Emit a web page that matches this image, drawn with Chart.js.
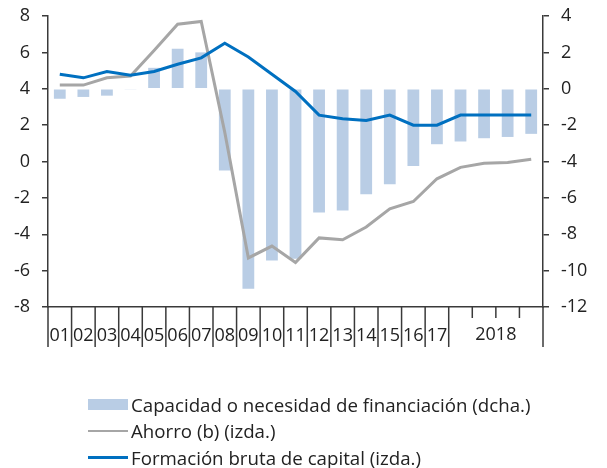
<!DOCTYPE html>
<html>
<head>
<meta charset="utf-8">
<script src="https://cdn.jsdelivr.net/npm/chart.js@4.4.0/dist/chart.umd.min.js"></script>
<style>
    html, body { margin: 0; padding: 0; background: #fff; }
    #wrap { position: relative; width: 607px; height: 468px; }
    #legend { position: absolute; left: 88px; top: 391px; font-family: 'Open Sans', sans-serif; font-size: 18.7px; color: #222; }
    .item { display: flex; align-items: center; height: 26.5px; }
    .swatch { width: 40px; margin-right: 3px; }
</style>
</head>
<body>
<div id="wrap">
    <canvas id="chart" width="607" height="468"></canvas>
    <div id="legend"></div>
</div>
<script>
// Categories: years 2001-2017, then four quarters of 2018
const categories = ['01', '02', '03', '04', '05', '06', '07', '08', '09', '10', '11',
    '12', '13', '14', '15', '16', '17', '2018 I', '2018 II', '2018 III', '2018 IV'];
const tickLabels = ['01', '02', '03', '04', '05', '06', '07', '08', '09', '10', '11',
    '12', '13', '14', '15', '16', '17', '', '', '', ''];
const groupLabel = '2018';

// Capacidad o necesidad de financiación (right axis)
const capacidad = [-0.55, -0.45, -0.38, -0.05, 1.15, 2.2, 2.0, -4.5, -11.0, -9.45, -9.35,
    -6.8, -6.7, -5.8, -5.25, -4.25, -3.05, -2.9, -2.72, -2.65, -2.48];
// Ahorro (left axis)
const ahorro = [4.2, 4.2, 4.6, 4.7, 6.1, 7.55, 7.7, 1.6, -5.3, -4.65, -5.55,
    -4.2, -4.3, -3.6, -2.6, -2.2, -0.95, -0.32, -0.1, -0.05, 0.12];
// Formación bruta de capital (left axis)
const formacion = [4.8, 4.6, 4.95, 4.75, 4.95, 5.35, 5.7, 6.5, 5.75, 4.8, 3.85,
    2.55, 2.35, 2.25, 2.55, 2.0, 2.0, 2.55, 2.55, 2.55, 2.55];

const axisColor = '#3a3a3a';
const tickFont = { family: 'Open Sans', size: 18 };

const datasets = [
    {
        type: 'bar',
        label: 'Capacidad o necesidad de financiación (dcha.)',
        data: capacidad,
        yAxisID: 'y2',
        backgroundColor: '#B9CDE5',
        barPercentage: 0.5,
        categoryPercentage: 1,
        order: 3
    },
    {
        type: 'line',
        label: 'Ahorro (b) (izda.)',
        data: ahorro,
        yAxisID: 'y',
        borderColor: '#A6A6A6',
        borderWidth: 3,
        pointRadius: 0,
        tension: 0,
        order: 2
    },
    {
        type: 'line',
        label: 'Formación bruta de capital (izda.)',
        data: formacion,
        yAxisID: 'y',
        borderColor: '#0070C0',
        borderWidth: 3,
        pointRadius: 0,
        tension: 0,
        order: 1
    }
];

// Draws the category separators below the axis and the shared 2018 label
const xTicksPlugin = {
    id: 'xTicks',
    afterDraw(chart) {
        const x = chart.scales.x;
        const ctx = chart.ctx;
        const n = categories.length;
        ctx.save();
        ctx.strokeStyle = axisColor;
        ctx.lineWidth = 1.5;
        for (let k = 0; k <= n; k++) {
            const px = x.getPixelForValue(k - 0.5);
            const isQuarter = k > 17 && k < n;
            ctx.beginPath();
            ctx.moveTo(px, x.top);
            ctx.lineTo(px, x.top + (isQuarter ? 11 : 40));
            ctx.stroke();
        }
        ctx.fillStyle = '#222';
        ctx.font = tickFont.size + 'px ' + tickFont.family;
        ctx.textAlign = 'center';
        ctx.textBaseline = 'middle';
        const mid = (x.getPixelForValue(18) + x.getPixelForValue(19)) / 2;
        ctx.fillText(groupLabel, mid, x.top + 28);
        ctx.restore();
    }
};

// fixed axis widths, and no extra room reserved for the end labels
const fitY = (width) => (scale) => {
    scale.width = width;
    scale.paddingTop = 0;
    scale.paddingBottom = 0;
};

new Chart(document.getElementById('chart'), {
    data: { labels: categories, datasets: datasets },
    options: {
        responsive: false,
        animation: false,
        layout: { padding: { top: 16, bottom: 121, left: 0, right: 0 } },
        plugins: {
            legend: { display: false },
            tooltip: { enabled: false }
        },
        scales: {
            x: {
                offset: true,
                grid: { display: false, drawTicks: false },
                border: { color: axisColor, width: 1.5 },
                ticks: {
                    autoSkip: false,
                    maxRotation: 0,
                    padding: 18,
                    color: '#222',
                    font: tickFont,
                    callback: (value, index) => tickLabels[index]
                },
                afterFit: (scale) => { scale.height = 40; }
            },
            y: {
                position: 'left',
                min: -8,
                max: 8,
                grid: { drawOnChartArea: false, tickLength: 6, color: axisColor, lineWidth: 1.5 },
                border: { color: axisColor, width: 1.5 },
                ticks: { stepSize: 2, padding: 12, color: '#222', font: tickFont },
                afterFit: fitY(48)
            },
            y2: {
                position: 'right',
                min: -12,
                max: 4,
                grid: { drawOnChartArea: false, tickLength: 6, color: axisColor, lineWidth: 1.5 },
                border: { color: axisColor, width: 1.5 },
                ticks: { stepSize: 2, padding: 12, color: '#222', font: tickFont },
                afterFit: fitY(64)
            }
        }
    },
    plugins: [xTicksPlugin]
});

// HTML legend built from the dataset definitions
const legend = document.getElementById('legend');
datasets.forEach(ds => {
    const item = document.createElement('div');
    item.className = 'item';
    const sw = document.createElement('span');
    sw.className = 'swatch';
    if (ds.type === 'bar') {
        sw.style.height = '11px';
        sw.style.background = ds.backgroundColor;
    } else {
        sw.style.height = (ds.type === 'line' && ds.borderColor === '#A6A6A6' ? 2 : ds.borderWidth) + 'px';
        sw.style.background = ds.borderColor;
    }
    const txt = document.createElement('span');
    txt.textContent = ds.label;
    item.appendChild(sw);
    item.appendChild(txt);
    legend.appendChild(item);
});
</script>
</body>
</html>
